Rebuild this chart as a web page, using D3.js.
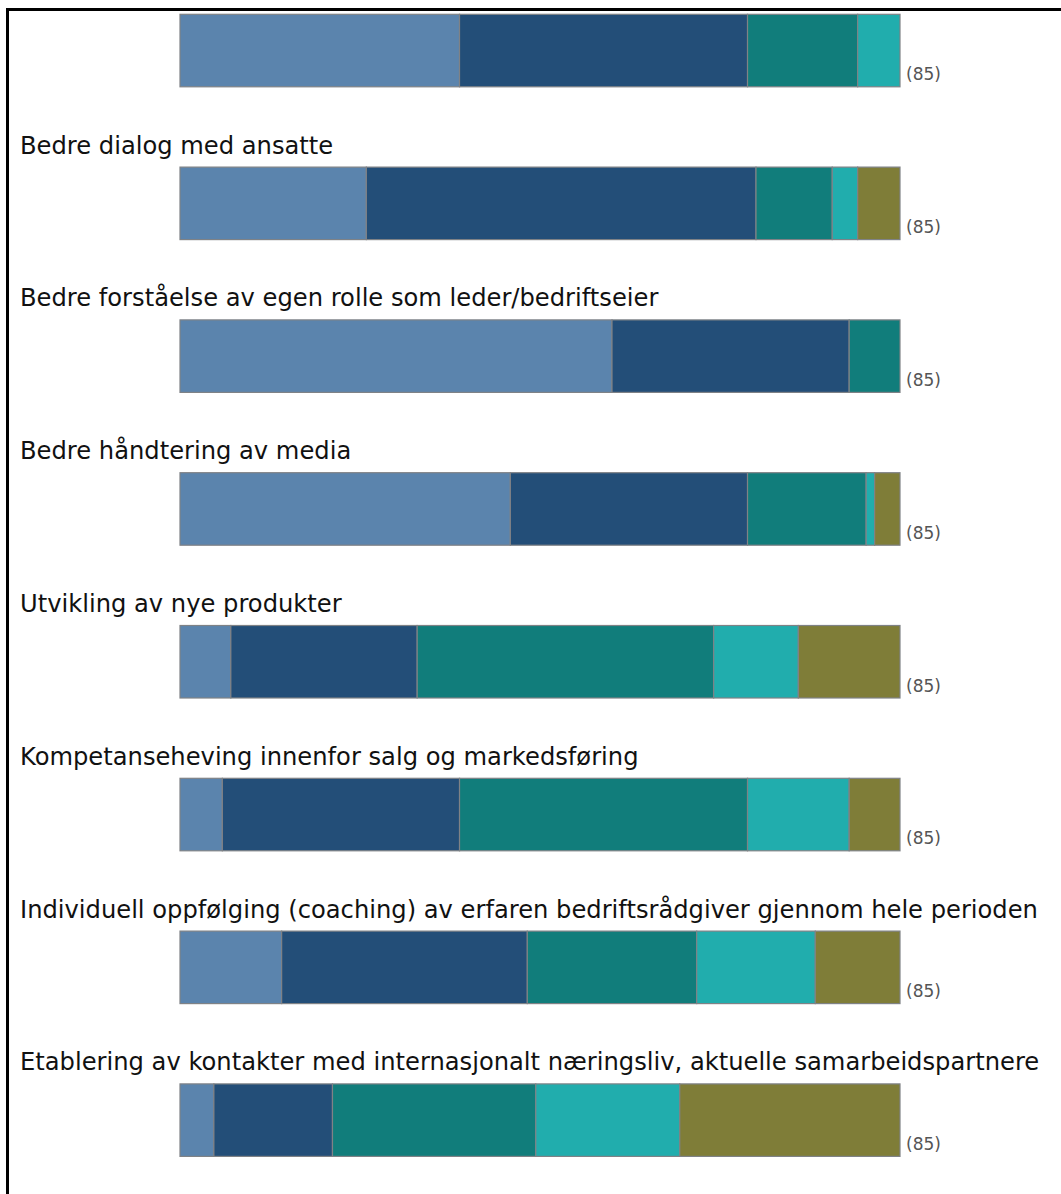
<!DOCTYPE html>
<html>
<head>
<meta charset="utf-8">
<script src="https://cdn.jsdelivr.net/npm/d3@7"></script>
<style>
  html, body { margin: 0; padding: 0; background: #fff; }
  svg { display: block; }
</style>
</head>
<body>
<svg id="chart" width="1061" height="1194"></svg>
<script>
// Questions (the first one's heading sits above the visible frame)
const categories = [
  "",
  "Bedre dialog med ansatte",
  "Bedre forståelse av egen rolle som leder/bedriftseier",
  "Bedre håndtering av media",
  "Utvikling av nye produkter",
  "Kompetanseheving innenfor salg og markedsføring",
  "Individuell oppfølging (coaching) av erfaren bedriftsrådgiver gjennom hele perioden",
  "Etablering av kontakter med internasjonalt næringsliv, aktuelle samarbeidspartnere"
];

// Answer levels, in stacking order
const levels = ["Svært stor grad", "Stor grad", "Noen grad", "Liten grad", "Ikke i det hele tatt"];
const levelColors = ["#5b84ad", "#234e78", "#117d7b", "#21adad", "#7f7d38"];

// Number of respondents per level for each question
const lvl1 = [33, 22, 51, 39, 6, 5, 12, 4];
const lvl2 = [34, 46, 28, 28, 22, 28, 29, 14];
const lvl3 = [13, 9, 6, 14, 35, 34, 20, 24];
const lvl4 = [5, 3, 0, 1, 10, 12, 14, 17];
const lvl5 = [0, 5, 0, 3, 12, 6, 10, 26];
const respondents = [85, 85, 85, 85, 85, 85, 85, 85];

const rows = categories.map((c, i) => ({
  cat: i + ":" + c,
  label: c,
  n: respondents[i],
  [levels[0]]: lvl1[i],
  [levels[1]]: lvl2[i],
  [levels[2]]: lvl3[i],
  [levels[3]]: lvl4[i],
  [levels[4]]: lvl5[i]
}));

const svg = d3.select("#chart");

// Outer frame (runs past the right and bottom edges)
svg.append("rect")
  .attr("x", 7.5).attr("y", 9.5)
  .attr("width", 1200).attr("height", 1400)
  .attr("fill", "none")
  .attr("stroke", "#000")
  .attr("stroke-width", 3);

const x = d3.scaleLinear().domain([0, 85]).range([180, 900]);
const y = d3.scaleBand()
  .domain(rows.map(d => d.cat))
  .range([14.3, 1156.4])
  .paddingInner(0.5255)
  .paddingOuter(0);

const stacked = d3.stack().keys(levels)(rows);
const color = d3.scaleOrdinal().domain(levels).range(levelColors);

svg.append("g")
  .selectAll("g")
  .data(stacked)
  .join("g")
  .attr("fill", s => color(s.key))
  .selectAll("rect")
  .data(s => s.filter(d => d[1] - d[0] > 0))
  .join("rect")
  .attr("x", d => x(d[0]))
  .attr("y", d => y(d.data.cat))
  .attr("width", d => x(d[1]) - x(d[0]))
  .attr("height", y.bandwidth())
  .attr("stroke", "#7f8286")
  .attr("stroke-width", 1.2);

// Question headings
svg.append("g")
  .selectAll("text")
  .data(rows)
  .join("text")
  .attr("x", 20)
  .attr("y", d => y(d.cat) - 13.5)
  .attr("font-family", "'DejaVu Sans', Verdana, sans-serif")
  .attr("font-size", 24.2)
  .attr("fill", "#111")
  .text(d => d.label);

// Respondent count next to each bar
svg.append("g")
  .selectAll("text")
  .data(rows)
  .join("text")
  .attr("x", x(85) + 6)
  .attr("y", d => y(d.cat) + y.bandwidth() - 6.5)
  .attr("font-family", "'DejaVu Sans', Verdana, sans-serif")
  .attr("font-size", 17)
  .attr("fill", "#555")
  .text(d => "(" + d.n + ")");
</script>
</body>
</html>
